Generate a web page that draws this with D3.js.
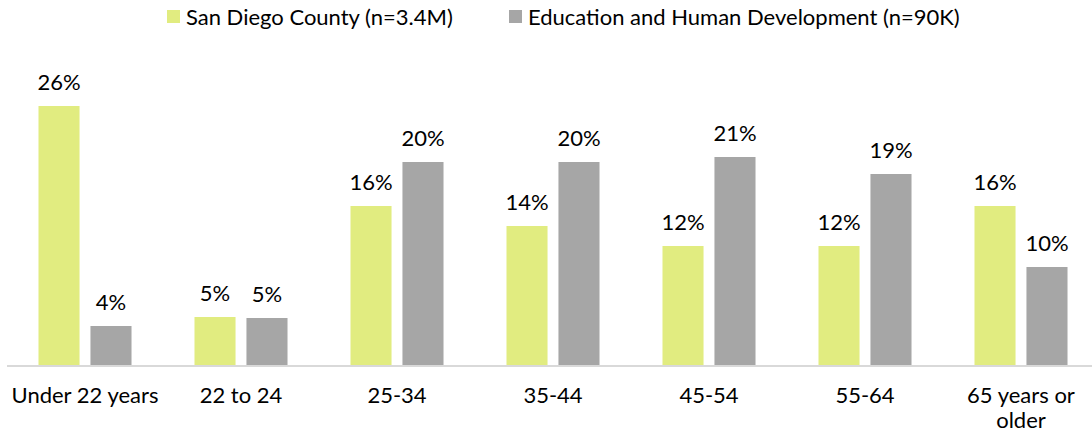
<!DOCTYPE html>
<html>
<head>
<meta charset="utf-8">
<script src="https://cdn.jsdelivr.net/npm/d3@7"></script>
<style>
  body { margin: 0; background: #fff; }
  text { font-family: "Lato", sans-serif; fill: #000; }
</style>
</head>
<body>
<div id="chart"></div>
<script>
// age groups and shares (%)
const categories = [["Under 22 years"], ["22 to 24"], ["25-34"], ["35-44"], ["45-54"], ["55-64"], ["65 years or", "older"]];
const seriesNames = ["San Diego County (n=3.4M)", "Education and Human Development (n=90K)"];
const sanDiego = [26.0, 4.9, 16.0, 14.0, 12.0, 12.0, 16.0];
const eduHumanDev = [4.0, 4.8, 20.4, 20.4, 20.9, 19.2, 9.9];
const colors = ["#e1ec80", "#a6a6a6"];

const width = 1092, height = 434;
const margin = { top: 106, right: -7, bottom: 68, left: 7 };

const svg = d3.select("#chart").append("svg")
  .attr("width", width)
  .attr("height", height);

const x = d3.scaleBand()
  .domain(d3.range(categories.length))
  .range([margin.left, width - margin.right]);

const xInner = d3.scaleBand()
  .domain([0, 1])
  .range([0, x.bandwidth()])
  .paddingInner(0.21)
  .paddingOuter(0.606);

const y = d3.scaleLinear()
  .domain([0, 26])
  .range([height - margin.bottom, margin.top]);

const series = [sanDiego, eduHumanDev];

// bars + value labels
series.forEach((vals, s) => {
  const g = svg.append("g");
  g.selectAll("rect")
    .data(vals)
    .join("rect")
    .attr("x", (d, i) => x(i) + xInner(s))
    .attr("y", d => y(d))
    .attr("width", xInner.bandwidth())
    .attr("height", d => y(0) - y(d))
    .attr("fill", colors[s]);

  g.selectAll("text")
    .data(vals)
    .join("text")
    .attr("x", (d, i) => x(i) + xInner(s) + xInner.bandwidth() / 2)
    .attr("y", d => y(d) - 16)
    .attr("text-anchor", "middle")
    .attr("font-size", 22)
    .text(d => Math.round(d) + "%");
});

// baseline
svg.append("line")
  .attr("x1", margin.left).attr("x2", width)
  .attr("y1", y(0)).attr("y2", y(0))
  .attr("stroke", "#d9d9d9")
  .attr("stroke-width", 2);

// category labels
const xAxis = svg.append("g");
categories.forEach((lines, i) => {
  const t = xAxis.append("text")
    .attr("x", x(i) + x.bandwidth() / 2)
    .attr("y", y(0) + 37)
    .attr("text-anchor", "middle")
    .attr("font-size", 22);
  lines.forEach((l, k) => {
    t.append("tspan")
      .attr("x", x(i) + x.bandwidth() / 2)
      .attr("dy", k === 0 ? 0 : 25)
      .text(l);
  });
});

// legend
const legendX = [167, 509];
seriesNames.forEach((name, s) => {
  const g = svg.append("g").attr("transform", `translate(${legendX[s]},10)`);
  g.append("rect")
    .attr("width", 13).attr("height", 13)
    .attr("fill", colors[s]);
  g.append("text")
    .attr("x", 19).attr("y", 15)
    .attr("font-size", 22)
    .text(name);
});
</script>
</body>
</html>
